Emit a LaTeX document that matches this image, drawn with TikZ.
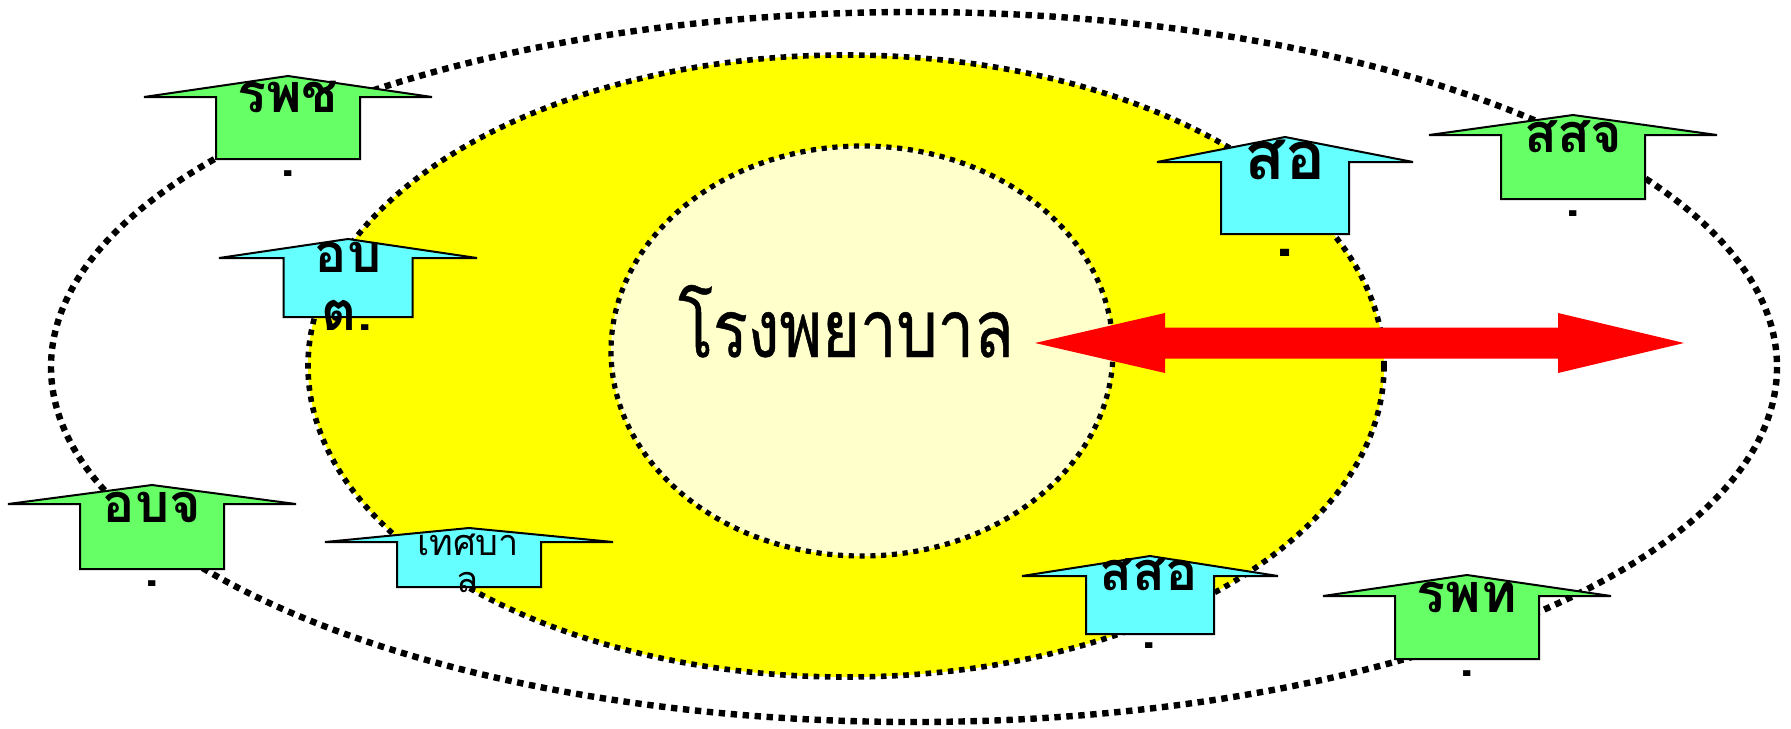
\documentclass[tikz,border=0pt]{standalone}
\usepackage{fontspec}
\newfontfamily\thaifont[Script=Thai]{Loma}
\newfontfamily\thaicond[Script=Thai, FakeStretch=0.81, FakeBold=0.6]{Loma}
\definecolor{housegreen}{HTML}{66FF66}
\definecolor{housecyan}{HTML}{66FFFF}
\definecolor{ringyellow}{HTML}{FFFF00}
\definecolor{coreyellow}{HTML}{FFFFCC}
\tikzset{
  ring/.style      = {draw=black, line width=3.2pt, dash pattern=on 3.2pt off 2.8pt},
  midring/.style   = {ring, line width=2.8pt, dash pattern=on 2.8pt off 2.8pt},
  corering/.style  = {ring, line width=2.6pt, dash pattern=on 2.6pt off 2.8pt},
  house/.style     = {draw=black, line width=1pt, line join=miter},
  hlab/.style      = {anchor=base, inner sep=0pt, font=\thaifont\bfseries\fontsize{27}{32}\selectfont},
  biglab/.style    = {hlab, font=\thaifont\bfseries\fontsize{33.5}{40}\selectfont},
  smalllab/.style  = {hlab, font=\thaifont\fontsize{18}{22}\selectfont},
  mainlab/.style   = {anchor=base, inner sep=0pt, font=\thaicond\fontsize{40}{46}\selectfont},
  twoway/.style    = {fill=red},
  pics/roofhouse/.style n args={4}{code={
    \draw[house, fill=#1] (-#2,0) -- (0,-#4) -- (#2,0) -- (#2/2,0) -- (#2/2,#3)
      -- (-#2/2,#3) -- (-#2/2,0) -- cycle;
  }},
}
\begin{document}
\begin{tikzpicture}[x=0.5pt, y=-0.5pt]
  \useasboundingbox (0,0) rectangle (1791,728);
  % ---- rings
  \draw[ring] (914,367) ellipse [x radius=863, y radius=355];
  \draw[midring, fill=ringyellow] (846,366) ellipse [x radius=538, y radius=311];
  \draw[corering, fill=coreyellow] (862,351) ellipse [x radius=251, y radius=205];
  \node[mainlab] (hosp) at (846,357) {โรงพยาบาล};
  % ---- two-way arrow
  \coordinate (aL) at (1035,343);
  \coordinate (aR) at (1684,343);
  \fill[twoway] (aL) -- ++(130,-30) -- ++(0,14.5) -- ++(393,0) -- ++(0,-14.5) -- (aR)
    -- ++(-126,30) -- ++(0,-14.5) -- ++(-393,0) -- ++(0,14.5) -- cycle;
  % ---- houses, left side
  \pic at (288,97)  {roofhouse={housegreen}{144}{62}{21}};
  \node[hlab] (rpch) at (288,112) {รพช};
  \node[hlab] (rpch2) at (288,176) {.};
  \pic at (348,258) {roofhouse={housecyan}{129}{59}{19}};
  \node[hlab] (obt) at (348,272) {อบ};
  \node[hlab] (obt2) at (347,330) {ต.};
  \pic at (152,504) {roofhouse={housegreen}{144}{65}{19}};
  \node[hlab] (obj) at (152,522) {อบจ};
  \node[hlab] (obj2) at (152,586) {.};
  \pic at (469,542) {roofhouse={housecyan}{144}{45}{14}};
  \node[smalllab] (tsb) at (468,555) {เทศบา};
  \node[smalllab] (tsb2) at (468,592) {ล};
  % ---- houses, right side
  \pic at (1285,162) {roofhouse={housecyan}{128}{72}{25}};
  \node[biglab] (so) at (1285,179) {สอ};
  \node[biglab] (so2) at (1285,256) {.};
  \pic at (1573,135) {roofhouse={housegreen}{144}{64}{20}};
  \node[hlab] (ssj) at (1573,152) {สสจ};
  \node[hlab] (ssj2) at (1573,216) {.};
  \pic at (1150,576) {roofhouse={housecyan}{128}{58}{20}};
  \node[hlab] (sso) at (1149,590) {สสอ};
  \node[hlab] (sso2) at (1149,648) {.};
  \pic at (1467,596) {roofhouse={housegreen}{144}{63}{21}};
  \node[hlab] (rpt) at (1467,612) {รพท};
  \node[hlab] (rpt2) at (1467,676) {.};
\end{tikzpicture}
\end{document}
